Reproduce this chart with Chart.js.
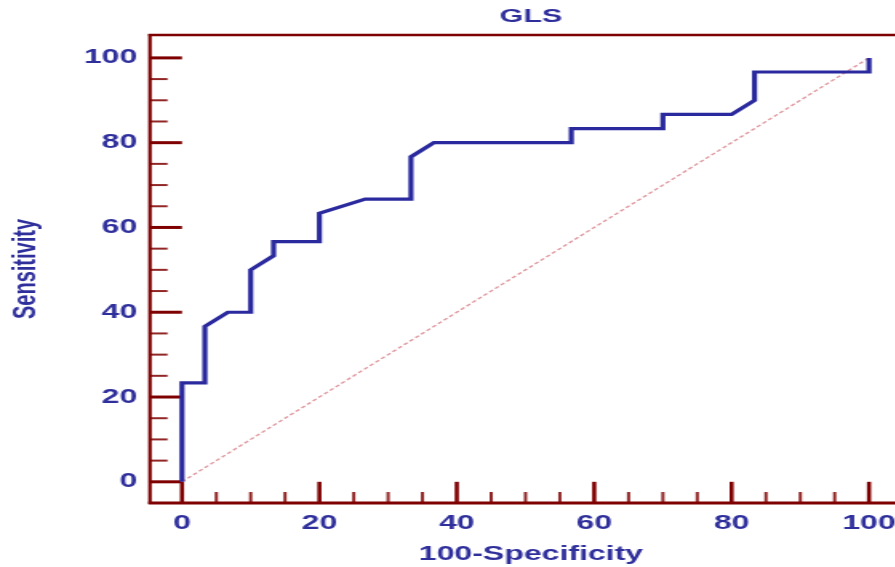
<!DOCTYPE html>
<html>
<head>
<meta charset="utf-8">
<script src="https://cdn.jsdelivr.net/npm/chart.js@4/dist/chart.umd.min.js"></script>
<style>
  html, body { margin: 0; padding: 0; background: #ffffff; overflow: hidden; }
  #wrap { position: absolute; left: 0; top: 0; width: 572px; height: 567px;
          transform: scaleX(1.6); transform-origin: 0 0; }
</style>
</head>
<body>
<div id="wrap"><canvas id="c" width="572" height="567"></canvas></div>
<script>
// ---- data ----
const chartTitle = 'GLS';
const xTitle = '100-Specificity';
const yTitle = 'Sensitivity';
const rocX = [0, 0, 3.33, 3.33, 6.67, 10, 10, 13.33, 13.33, 20, 20, 26.67, 33.33, 33.33, 36.67, 56.67, 56.67, 70, 70, 80, 83.33, 83.33, 100, 100];
const rocY = [0, 23.33, 23.33, 36.67, 40, 40, 50, 53.33, 56.67, 56.67, 63.33, 66.67, 66.67, 76.67, 80, 80, 83.33, 83.33, 86.67, 86.67, 90, 96.67, 96.67, 100];
const diagX = [0, 100];
const diagY = [0, 100];
const xTicks = [0, 20, 40, 60, 80, 100];
const yTicks = [0, 20, 40, 60, 80, 100];
const minorTicks = [5, 10, 15, 25, 30, 35, 45, 50, 55, 65, 70, 75, 85, 90, 95];

// ---- styles ----
const axisColor = '#7f0000';
const textColor = '#2f2f9c';
const curveColor = '#2a2a9e';
const diagColor = '#dd959c';
const fontFam = '"Liberation Sans", Arial, sans-serif';

const toPts = (xs, ys) => xs.map((v, i) => ({ x: v, y: ys[i] }));

const axesPlugin = {
  id: 'axesPlugin',
  beforeDatasetsDraw(chart) {
    const { ctx, chartArea: { left, right, top, bottom }, scales: { x, y } } = chart;
    ctx.save();
    ctx.strokeStyle = axisColor;
    ctx.lineCap = 'butt';
    // top border
    ctx.lineWidth = 2.5;
    ctx.beginPath(); ctx.moveTo(left - 1, top); ctx.lineTo(right + 5, top); ctx.stroke();
    // left axis
    ctx.lineWidth = 2.2;
    ctx.beginPath(); ctx.moveTo(left, top - 1); ctx.lineTo(left, bottom + 1); ctx.stroke();
    // bottom axis
    ctx.lineWidth = 2.8;
    ctx.beginPath(); ctx.moveTo(left - 1, bottom); ctx.lineTo(right + 5, bottom); ctx.stroke();
    const x0 = x.getPixelForValue(0);
    const y0 = y.getPixelForValue(0);
    // y major ticks
    ctx.lineWidth = 3;
    yTicks.forEach(v => {
      const py = y.getPixelForValue(v);
      ctx.beginPath(); ctx.moveTo(left, py); ctx.lineTo(x0, py); ctx.stroke();
    });
    // x major ticks
    ctx.lineWidth = 2.6;
    xTicks.forEach(v => {
      const px = x.getPixelForValue(v);
      ctx.beginPath(); ctx.moveTo(px, bottom); ctx.lineTo(px, y0); ctx.stroke();
    });
    // minor ticks
    ctx.strokeStyle = 'rgba(127,0,0,0.85)';
    ctx.lineWidth = 2;
    minorTicks.forEach(v => {
      const py = y.getPixelForValue(v);
      ctx.beginPath(); ctx.moveTo(left, py); ctx.lineTo(left + 11, py); ctx.stroke();
      const px = x.getPixelForValue(v);
      ctx.beginPath(); ctx.moveTo(px, bottom); ctx.lineTo(px, bottom - 11); ctx.stroke();
    });
    ctx.restore();
  }
};

new Chart(document.getElementById('c'), {
  type: 'scatter',
  data: {
    datasets: [
      {
        label: 'ROC',
        data: toPts(rocX, rocY),
        showLine: true,
        borderColor: curveColor,
        borderWidth: 3.2,
        pointRadius: 0,
        tension: 0,
        fill: false
      },
      {
        label: 'Reference',
        data: toPts(diagX, diagY),
        showLine: true,
        borderColor: diagColor,
        borderWidth: 1.3,
        borderDash: [3, 2],
        pointRadius: 0,
        fill: false
      }
    ]
  },
  options: {
    responsive: false,
    animation: false,
    layout: { padding: { left: 0, right: 2, top: 0, bottom: 0 } },
    plugins: {
      legend: { display: false },
      tooltip: { enabled: false },
      title: {
        display: true,
        text: chartTitle,
        fullSize: false,
        color: textColor,
        font: { family: fontFam, size: 19, weight: 'bold', lineHeight: 1.2 },
        padding: { top: 5, bottom: 7.2 }
      }
    },
    scales: {
      x: {
        type: 'linear',
        min: -4.66,
        max: 106.25,
        grid: { display: false, drawTicks: false },
        border: { display: false },
        afterBuildTicks: s => { s.ticks = xTicks.map(v => ({ value: v })); },
        afterFit: s => { s.height = 64; },
        ticks: {
          autoSkip: false, maxRotation: 0, padding: 8,
          color: textColor,
          font: { family: fontFam, size: 20, weight: 'bold', lineHeight: 1.2 }
        },
        title: {
          display: true, text: xTitle, color: textColor,
          font: { family: fontFam, size: 20, weight: 'bold', lineHeight: 1.2 },
          padding: { top: 0, bottom: 1 }
        }
      },
      y: {
        type: 'linear',
        min: -5,
        max: 105.4,
        grid: { display: false, drawTicks: false },
        border: { display: false },
        afterBuildTicks: s => { s.ticks = yTicks.map(v => ({ value: v })); },
        afterFit: s => { s.width = 93.75; },
        ticks: {
          autoSkip: false, padding: 8,
          color: textColor,
          font: { family: fontFam, size: 20, weight: 'bold', lineHeight: 1.2 }
        },
        title: {
          display: true, text: yTitle, color: textColor,
          font: { family: fontFam, size: 20, weight: 'bold', lineHeight: 1.2 },
          padding: { top: 4.6, bottom: 0 }
        }
      }
    }
  },
  plugins: [axesPlugin]
});
</script>
</body>
</html>
